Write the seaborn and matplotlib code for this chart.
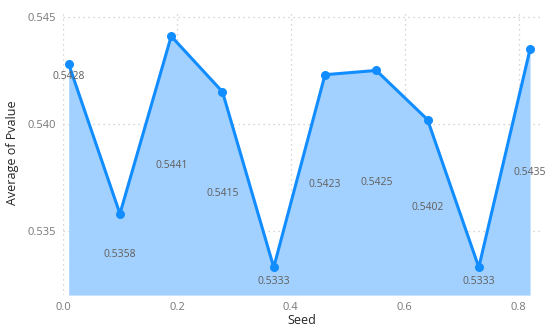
import matplotlib
matplotlib.use("Agg")
import matplotlib.pyplot as plt
import seaborn as sns
import pandas as pd

seed = [0.01, 0.10, 0.19, 0.28, 0.37, 0.46, 0.55, 0.64, 0.73, 0.82]
pvalue = [0.5428, 0.5358, 0.5441, 0.5415, 0.5333, 0.5423, 0.5425, 0.5402, 0.5333, 0.5435]
xticks = [0.0, 0.2, 0.4, 0.6, 0.8]
yticks = [0.535, 0.540, 0.545]

df = pd.DataFrame({"Seed": seed, "Pvalue": pvalue})

sns.set_theme(style="white")
plt.rcParams['font.family'] = ['Open Sans', 'DejaVu Sans']

fig = plt.figure(figsize=(5.5, 3.29), dpi=100)
ax = fig.add_axes([0.1145, 0.103, 0.87, 0.865])

ymin, ymax = 0.532, 0.5453
line_c = "#118DFF"
fill_c = "#A3D1FF"

ax.fill_between(df["Seed"], df["Pvalue"], ymin, color=fill_c, linewidth=0, zorder=1)
sns.lineplot(data=df, x="Seed", y="Pvalue", ax=ax, color=line_c, linewidth=2.2,
             marker="o", markersize=6.5, markeredgewidth=0, zorder=3)

for x, v in zip(seed, pvalue):
    if x == seed[0]:
        ly = v - 0.0006
    else:
        ly = (v + ymin) / 2
    ax.text(x, ly, f"{v:.4f}", ha="center", va="center", fontsize=7.5, color="#605E5C", zorder=4)

ax.set_xlim(0, 0.84)
ax.set_ylim(ymin, ymax)
ax.set_xticks(xticks)
ax.set_xticklabels([f"{t:.1f}" for t in xticks])
ax.set_yticks(yticks)
ax.set_yticklabels([f"{t:.3f}" for t in yticks])
ax.tick_params(axis="both", labelsize=8, colors="#777777", length=0, pad=5)
ax.grid(True, linestyle=(0, (1, 3)), color="#C8C8C8", linewidth=0.9, zorder=0)
ax.set_axisbelow(True)
for s in ax.spines.values():
    s.set_visible(False)
ax.set_xlabel("Seed", fontsize=9, color="#252423", labelpad=1)
ax.set_ylabel("Average of Pvalue", fontsize=9, color="#252423", labelpad=6)

fig.savefig("out.png", dpi=100)
